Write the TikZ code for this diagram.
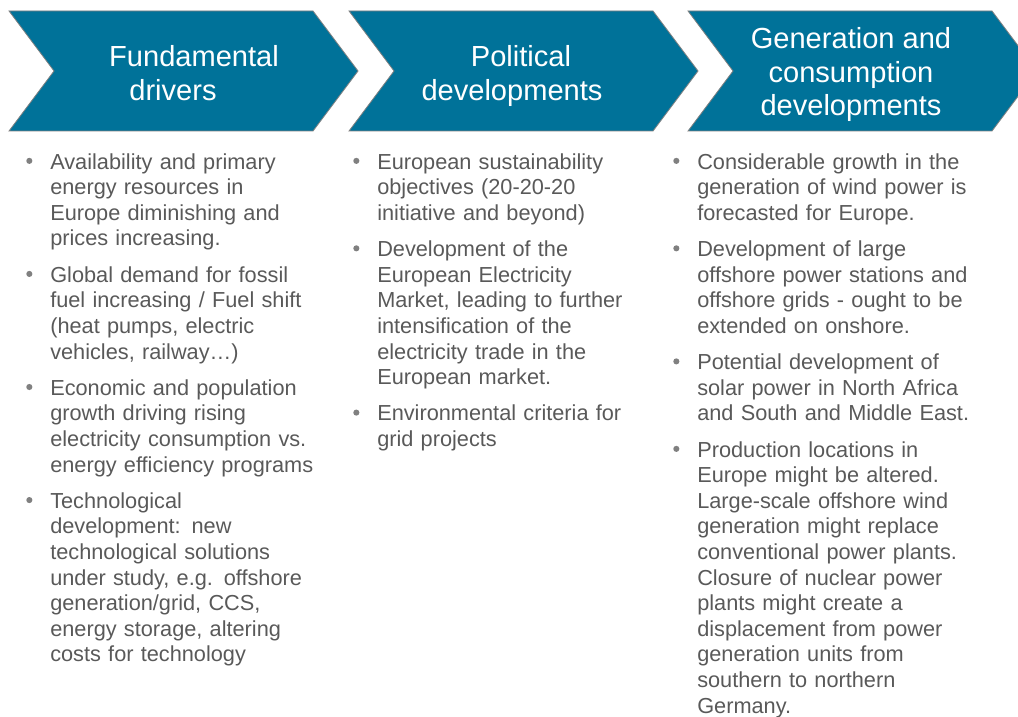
\documentclass[tikz,border=0pt]{standalone}
\usepackage{fontspec}
\setmainfont{Liberation Sans}
\usepackage{tikz}
\usetikzlibrary{positioning}

\definecolor{chevblue}{RGB}{0,114,153}
\definecolor{txtgray}{RGB}{89,89,89}
\definecolor{bulgray}{RGB}{128,128,128}

\begin{document}
\begin{tikzpicture}[
    x=0.75pt, y=-0.75pt,
    chev/.style={
	fill=chevblue,
	draw=gray,
	line width=0.6pt
    },
    head/.style={
	text=white,
	align=center,
	inner sep=0pt,
	font=\fontsize{21.8pt}{25.2pt}\selectfont,
	execute at begin node=\strut,
	execute at end node=\strut
    },
    item/.style={
	text=txtgray,
	align=left,
	inner sep=0pt,
	text width=230pt,
	anchor=north west,
	font=\fontsize{16.3pt}{19.2pt}\selectfont,
	execute at begin node=\strut,
	execute at end node=\strut
    },
    bul/.style={circle, fill=bulgray, inner sep=0pt, minimum size=4.6pt},
    node distance=7.6pt
]
	\useasboundingbox (0,0) rectangle (1018,717);
	\clip (0,0) rectangle (1018,717);

	% Chevrons
	\foreach \x in {9,349,688}
	    \draw[chev] (\x,11) -- ++(304,0) -- ++(45,60) -- ++(-45,60)
		-- ++(-304,0) -- ++(45,-60) -- cycle;

	\node[head] (fund) at (184,78.3) {\kern15pt Fundamental\\drivers\kern16.5pt};
	\node[head] (pol) at (516.5,78) {\kern6.75pt Political\\developments\kern6.75pt};
	\node[head] (gen) at (851,76.8) {Generation and\\consumption\\developments};

	% Fundamental drivers
	\node[item] (c1a) at (50,151) {Availability and primary\\energy resources in\\Europe diminishing and\\prices increasing.};
	\node[item, below=of c1a.south west, anchor=north west] (c1b) {Global demand for fossil\\fuel increasing / Fuel shift\\(heat pumps, electric\\vehicles, railway…)};
	\node[item, below=of c1b.south west, anchor=north west] (c1c) {Economic and population\\growth driving rising\\electricity consumption vs.\\energy efficiency programs};
	\node[item, below=of c1c.south west, anchor=north west] (c1d) {Technological\\development: new\\technological solutions\\under study, e.g. offshore\\generation/grid, CCS,\\energy storage, altering\\costs for technology};

	% Political developments
	\node[item] (c2a) at (377,151) {European sustainability\\objectives (20-20-20\\initiative and beyond)};
	\node[item, below=of c2a.south west, anchor=north west] (c2b) {Development of the\\European Electricity\\Market, leading to further\\intensification of the\\electricity trade in the\\European market.};
	\node[item, below=of c2b.south west, anchor=north west] (c2c) {Environmental criteria for\\grid projects};

	% Generation and consumption developments
	\node[item] (c3a) at (697,151) {Considerable growth in the\\generation of wind power is\\forecasted for Europe.};
	\node[item, below=of c3a.south west, anchor=north west] (c3b) {Development of large\\offshore power stations and\\offshore grids - ought to be\\extended on onshore.};
	\node[item, below=of c3b.south west, anchor=north west] (c3c) {Potential development of\\solar power in North Africa\\and South and Middle East.};
	\node[item, below=of c3c.south west, anchor=north west] (c3d) {Production locations in\\Europe might be altered.\\Large-scale offshore wind\\generation might replace\\conventional power plants.\\Closure of nuclear power\\plants might create a\\displacement from power\\generation units from\\southern to northern\\Germany.};

	% Bullets
	\foreach \n in {c1a,c1b,c1c,c1d,c2a,c2b,c2c,c3a,c3b,c3c,c3d}
	    \node[bul] (b-\n) at ([xshift=-15.5pt,yshift=-7.4pt]\n.north west) {};
\end{tikzpicture}
\end{document}
